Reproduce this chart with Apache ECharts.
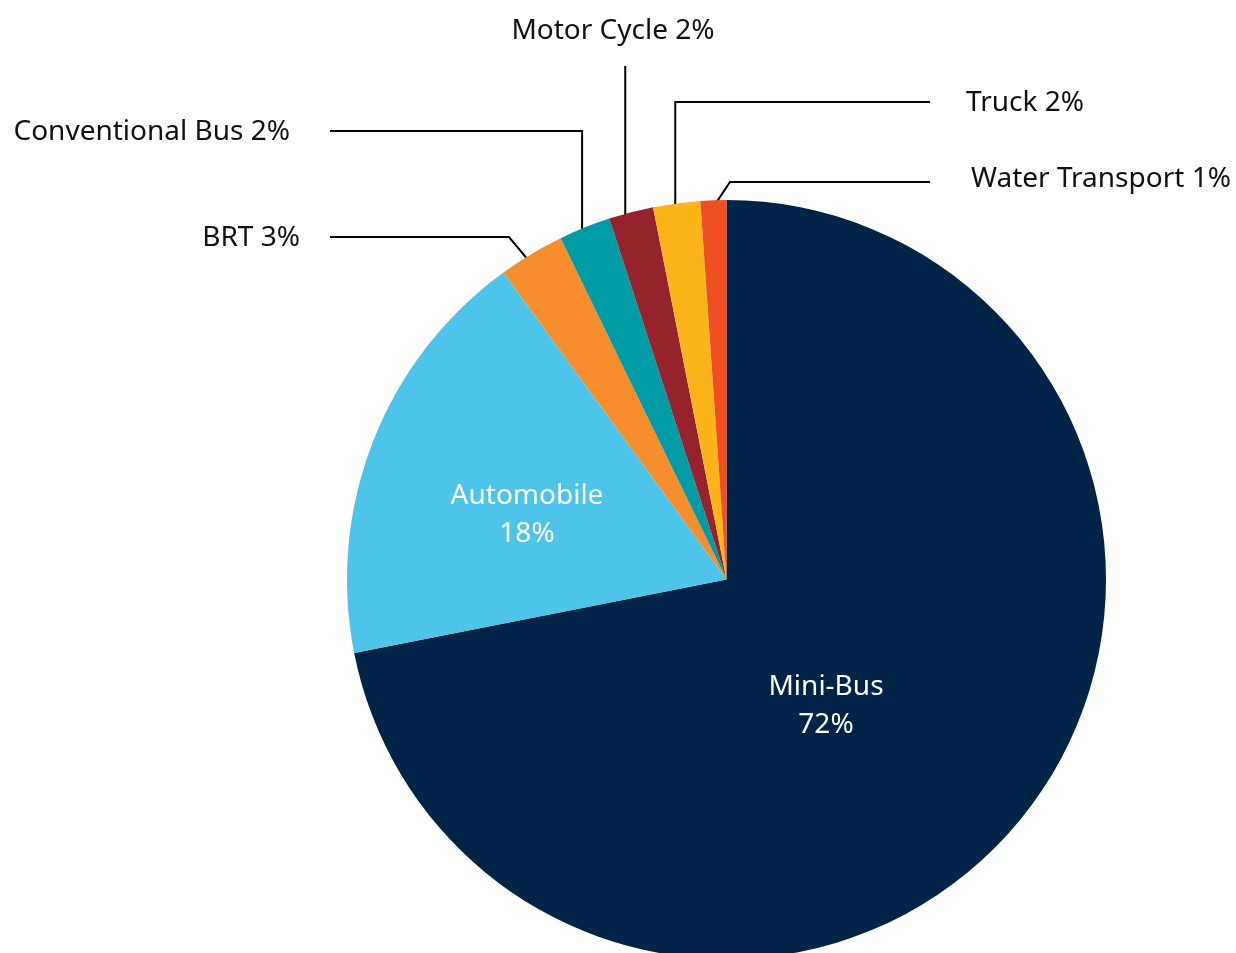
<!DOCTYPE html>
<html>
<head>
<meta charset="utf-8">
<script src="https://cdn.jsdelivr.net/npm/echarts@6/dist/echarts.min.js"></script>
<style>
  html, body { margin: 0; padding: 0; background: #fff; }
  #chart { width: 1236px; height: 953px; }
</style>
</head>
<body>
<div id="chart"></div>
<script>
const categories = ['Mini-Bus', 'Automobile', 'BRT', 'Conventional Bus', 'Motor Cycle', 'Truck', 'Water Transport'];
const shares = [71.9, 18.1, 2.8, 2.2, 1.9, 2.0, 1.1];
const sliceColors = ['#002447', '#4dc5eb', '#f68e2d', '#009ca6', '#96232b', '#fbb51a', '#ef5023'];

// pie geometry in px
const center = [726.5, 579.5];
const radius = 379.5;

// label placement + how the leader line bends (at = where in the slice the line starts)
const guides = {
    'Mini-Bus': { x: 826, y: 706, align: 'center' },
    'Automobile': { x: 527, y: 515, align: 'center' },
    'BRT': { at: 0.43, elbow: [509, 237], endX: 330, x: 300, y: 238, align: 'right' },
    'Conventional Bus': { at: 0.36, elbowY: 131, endX: 330, x: 290, y: 132, align: 'right' },
    'Motor Cycle': { at: 0.3, elbowY: 66, x: 613, y: 31, align: 'center' },
    'Truck': { at: 0.44, elbowY: 102, endX: 930, x: 966, y: 103, align: 'left' },
    'Water Transport': { at: 0.37, elbow: [730, 182], endX: 930, x: 971, y: 179, align: 'left' }
};

const total = shares.reduce((a, b) => a + b, 0);

function lineStart(i, at) {
    let before = 0;
    for (let k = 0; k < i; k++) before += shares[k];
    const a = (before + shares[i] * at) / total * Math.PI * 2;
    const r = radius - 11;
    return [center[0] + r * Math.sin(a), center[1] - r * Math.cos(a)];
}

const inner = ['Mini-Bus', 'Automobile'];

const chart = echarts.init(document.getElementById('chart'));

chart.setOption({
    animation: false,
    series: [{
        type: 'pie',
        center: center,
        radius: radius,
        startAngle: 90,
        clockwise: true,
        avoidLabelOverlap: false,
        emphasis: { disabled: true },
        itemStyle: { borderWidth: 0 },
        label: {
            fontFamily: 'Noto Sans',
            fontSize: 28,
            color: '#111',
            formatter: function (p) {
                const pct = Math.round(p.value) + '%';
                return inner.indexOf(p.name) >= 0 ? p.name + '\n' + pct : p.name + ' ' + pct;
            }
        },
        labelLine: {
            show: true,
            lineStyle: { color: '#000', width: 2 }
        },
        data: categories.map((name, i) => {
            const isInner = inner.indexOf(name) >= 0;
            return {
                name: name,
                value: shares[i],
                itemStyle: { color: sliceColors[i] },
                label: isInner
                    ? { position: 'inside', color: '#fff', lineHeight: 38, align: 'center' }
                    : { position: 'outside' },
                labelLine: { show: !isInner }
            };
        }),
        labelLayout: function (params) {
            const i = params.dataIndex;
            const g = guides[categories[i]];
            const out = { x: g.x, y: g.y, align: g.align, verticalAlign: 'middle' };
            if (g.at !== undefined) {
                const s = lineStart(i, g.at);
                let pts;
                if (g.elbow) {
                    pts = [s, g.elbow, [g.endX, g.elbow[1]]];
                } else if (g.endX !== undefined) {
                    pts = [s, [s[0], g.elbowY], [g.endX, g.elbowY]];
                } else {
                    pts = [s, [s[0], g.elbowY], [s[0], g.elbowY]];
                }
                out.labelLinePoints = pts;
            }
            return out;
        }
    }]
});
</script>
</body>
</html>
